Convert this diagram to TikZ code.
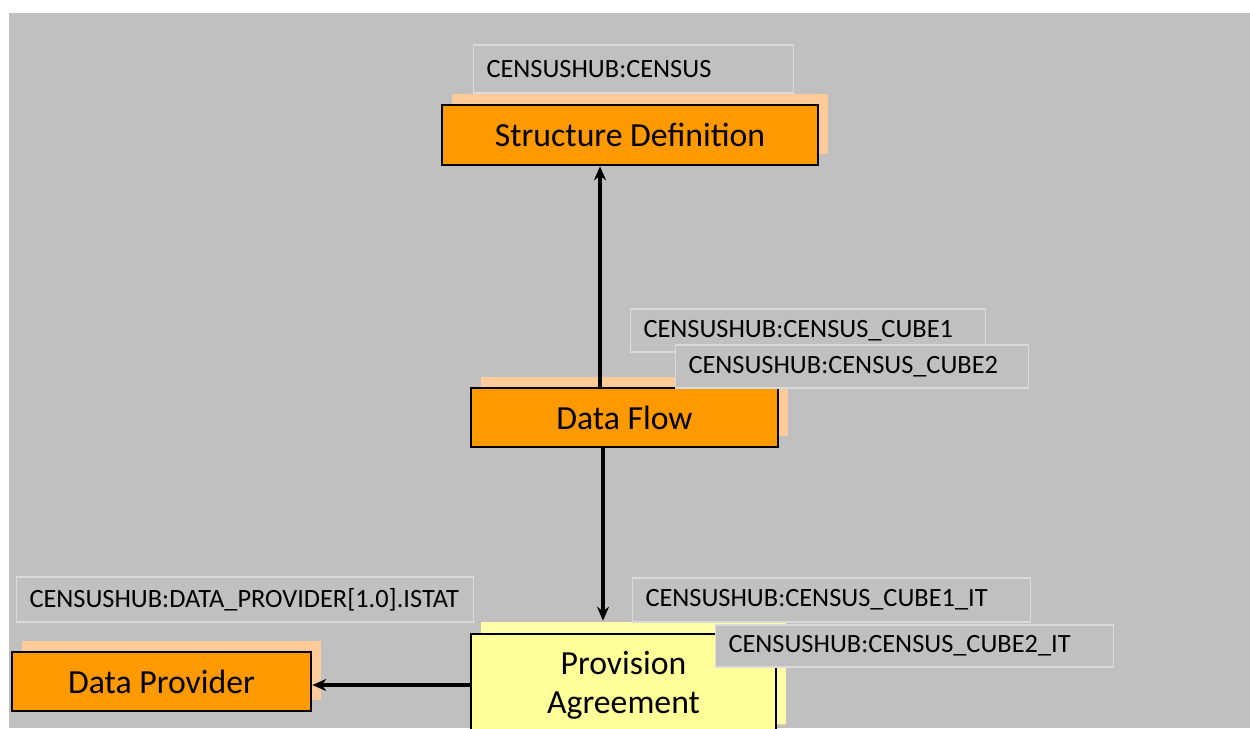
\documentclass[tikz,border=0pt]{standalone}
\usepackage{fontspec}
\setmainfont{Carlito}
\usepackage{tikz}
\usetikzlibrary{arrows.meta,shadows}
\definecolor{slidegray}{RGB}{192,192,192}
\definecolor{rimgray}{RGB}{218,218,218}
\definecolor{boxorange}{RGB}{255,153,0}
\definecolor{shadepeach}{RGB}{255,204,153}
\definecolor{paleyellow}{RGB}{255,255,153}
\definecolor{shadeyellow}{RGB}{255,255,170}
\tikzset{
  entity/.style={draw=black, line width=1.5pt, fill=boxorange,
                 align=center, inner sep=2pt,
                 font=\fontsize{19.2}{22}\selectfont,
                 drop shadow={shadow xshift=0.2cm, shadow yshift=0.22cm,
                              fill=shadepeach, opacity=1}},
  agreement/.style={entity, fill=paleyellow,
                    drop shadow={shadow xshift=0.2cm, shadow yshift=0.24cm,
                                 fill=shadeyellow, opacity=1}},
  idlabel/.style={draw=rimgray, line width=0.6pt, fill=slidegray,
                  anchor=west, align=left, inner xsep=0.26cm, inner ysep=0pt,
                  font=\fontsize{15}{17}\selectfont},
  arrow/.style={-{Stealth[length=2.8mm,width=2.4mm]}, line width=2pt, draw=black}
}

\begin{document}
\begin{tikzpicture}[x=0.02cm, y=-0.02cm]
  \useasboundingbox (0,0) rectangle (1250,728);
  \fill[slidegray] (9,13) rectangle (1250,728);

  % boxes
  \node[entity, minimum width=7.52cm, minimum height=1.2cm] (struct) at (630,135) {Structure Definition};
  \node[entity, minimum width=6.14cm, minimum height=1.18cm] (flow) at (624.5,417.5) {Data Flow};
  \node[agreement, minimum width=6.1cm, minimum height=2.04cm] (prov) at (623.5,685) {Provision\\Agreement};
  \node[entity, minimum width=5.98cm, minimum height=1.18cm] (provider) at (161.5,681.5) {Data Provider};

  % links
  \draw[arrow] ([xshift=-0.49cm]flow.north) -- ([xshift=-0.49cm]flow.north |- struct.south);
  \draw[arrow] ([xshift=-0.43cm]flow.south) -- ([xshift=-0.43cm,yshift=0.24cm]flow.south |- prov.north);
  \draw[arrow] (prov.west) -- (prov.west -| provider.east);

  % identifiers
  \node[idlabel, text width=5.88cm, minimum height=0.96cm] (idstruct) at (473,69) {CENSUSHUB:CENSUS};
  \node[idlabel, text width=6.58cm, minimum height=0.86cm] (idcube1) at (630,330.5) {CENSUSHUB:CENSUS\_CUBE1};
  \node[idlabel, text width=6.54cm, minimum height=0.86cm] (idcube2) at (675,366.5) {CENSUSHUB:CENSUS\_CUBE2};
  \node[idlabel, text width=8.62cm, minimum height=0.9cm] (idprov) at (16,599.5) {CENSUSHUB:DATA\_PROVIDER[1.0].ISTAT};
  \node[idlabel, text width=7.44cm, minimum height=0.88cm] (idcube1it) at (632,600) {CENSUSHUB:CENSUS\_CUBE1\_IT};
  \node[idlabel, text width=7.44cm, minimum height=0.84cm] (idcube2it) at (715,646) {CENSUSHUB:CENSUS\_CUBE2\_IT};
\end{tikzpicture}
\end{document}
